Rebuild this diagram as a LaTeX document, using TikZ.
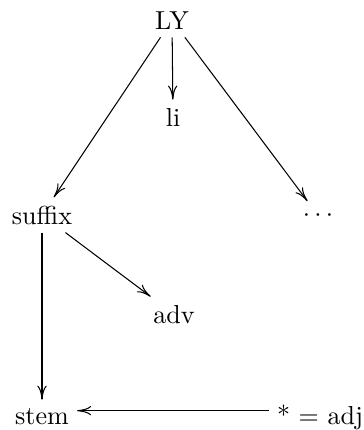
\documentclass[tikz,border=0pt]{standalone}
\usetikzlibrary{arrows.meta}
\begin{document}
\begin{tikzpicture}[x=0.3846pt,y=-0.3846pt,
  lbl/.style={inner sep=3pt,anchor=base},
  arr/.style={-{Computer Modern Rightarrow[length=5.4pt,width=3.6pt]},line width=0.4pt}]
\useasboundingbox (0,0) rectangle (363,430);
\node[lbl] (ly)   at (172,29)  {LY};
\node[lbl] (li)   at (173,126) {li};
\node[lbl] (suf)  at (42,224)  {suffix};
\node[lbl] (dots) at (318,221) {$\cdots$};
\node[lbl] (adv)  at (174,323) {adv};
\node[lbl] (stem) at (42,424)  {stem};
\node[lbl] (adj)  at (320,424) {* $=$ adj};
\draw[arr] (ly) -- (li);
\draw[arr] (ly) -- (suf);
\draw[arr] (ly) -- (dots);
\draw[arr] (suf) -- (adv);
\draw[arr] (suf) -- (stem);
\draw[arr] ([yshift=2.4pt]adj.west) -- ([yshift=2.4pt]adj.west -| stem.east);
\end{tikzpicture}
\end{document}
